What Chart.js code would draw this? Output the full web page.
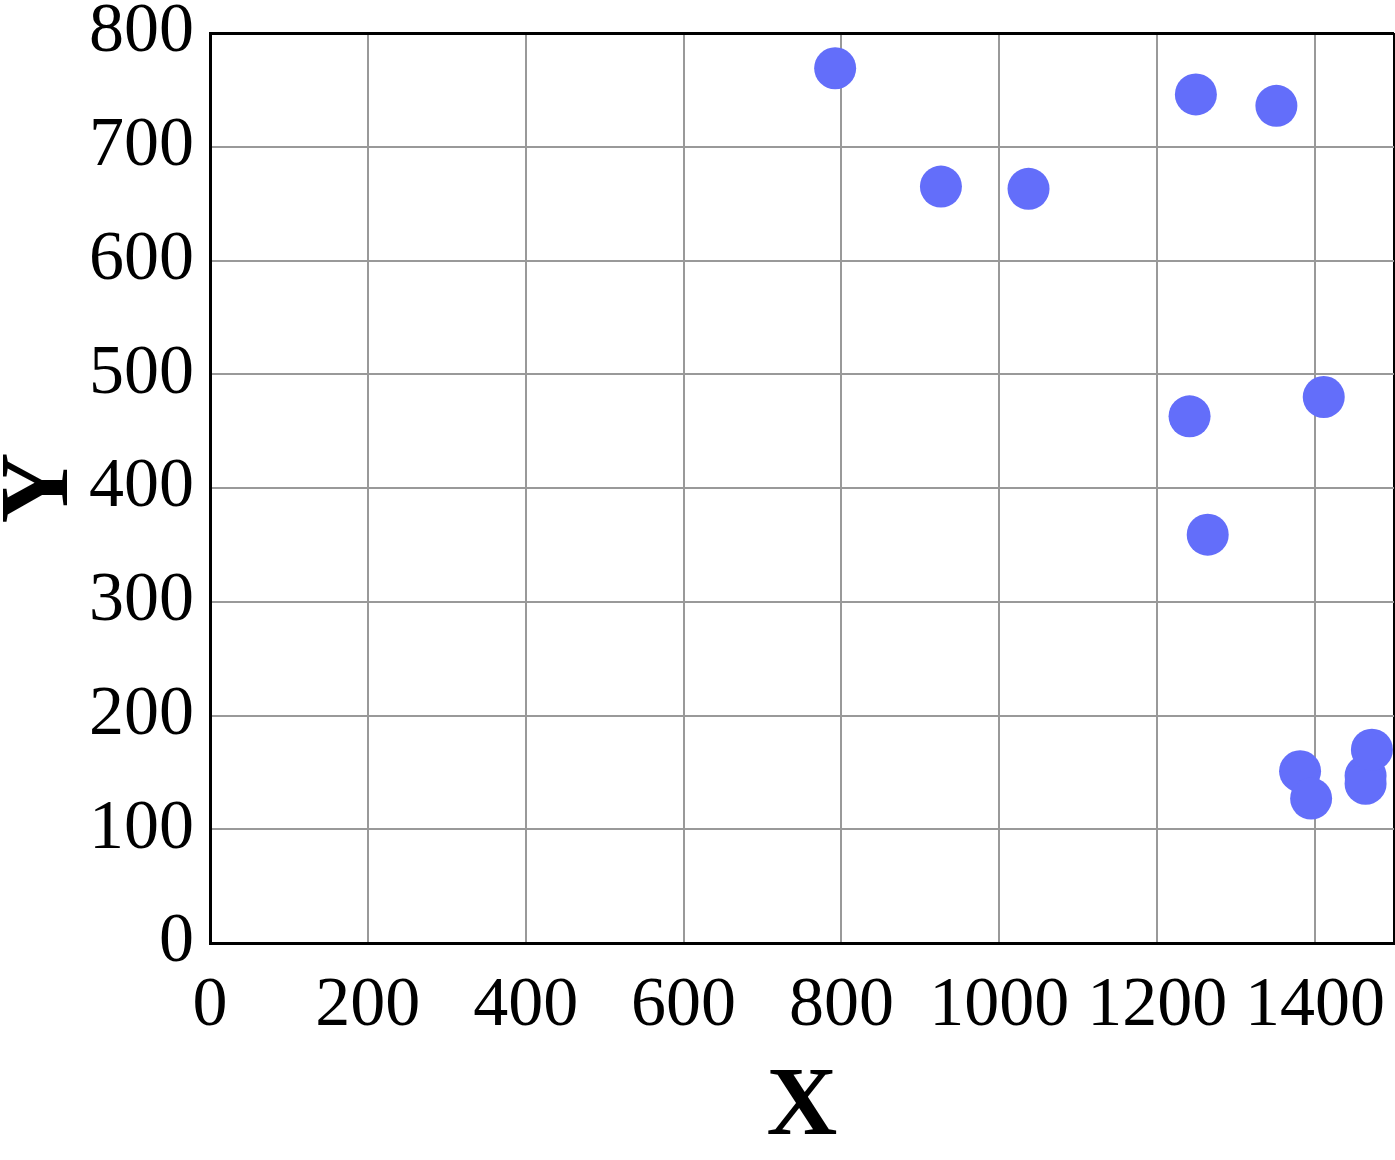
<!DOCTYPE html>
<html>
<head>
<meta charset="utf-8">
<script src="https://cdn.jsdelivr.net/npm/chart.js@4/dist/chart.umd.min.js"></script>
<style>
  html, body { margin: 0; padding: 0; background: #fff; overflow: hidden; }
  #wrap { width: 1395px; height: 1160px; }
</style>
</head>
<body>
<div id="wrap"><canvas id="chart"></canvas></div>
<script>
const xValues = [792, 926, 1037, 1249, 1351, 1241, 1411, 1264, 1381, 1395, 1464, 1464, 1472];
const yValues = [769, 665, 663, 746, 736, 463, 480, 359, 151, 127, 147, 140, 170];
const xTicks = [0, 200, 400, 600, 800, 1000, 1200, 1400];
const yTicks = [0, 100, 200, 300, 400, 500, 600, 700, 800];

const points = xValues.map((x, i) => ({ x: x, y: yValues[i] }));
const serif = "'Liberation Serif', 'Times New Roman', serif";

// keep the plot box where the reference has it, no room reserved for overhanging labels
function noOverhang(s) {
  s.paddingLeft = 0;
  s.paddingRight = 0;
  s.paddingTop = 0;
  s.paddingBottom = 0;
}

new Chart(document.getElementById('chart').getContext('2d'), {
  type: 'scatter',
  data: {
    datasets: [{
      data: points,
      backgroundColor: '#636efa',
      borderWidth: 0,
      pointRadius: 21,
      pointHoverRadius: 21,
      clip: 0
    }]
  },
  options: {
    responsive: true,
    maintainAspectRatio: false,
    animation: false,
    layout: { autoPadding: false, padding: { top: 33, right: 1, left: 0, bottom: 0 } },
    plugins: { legend: { display: false }, tooltip: { enabled: false } },
    scales: {
      x: {
        type: 'linear',
        min: 0,
        max: 1500,
        afterBuildTicks: s => { s.ticks = xTicks.concat([1500]).map(v => ({ value: v })); },
        afterFit: s => { s.height = 217; noOverhang(s); },
        ticks: {
          padding: 22,
          autoSkip: false,
          maxRotation: 0,
          minRotation: 0,
          color: '#000',
          font: { family: serif, size: 70 },
          callback: v => xTicks.includes(v) ? String(v) : ''
        },
        grid: {
          drawTicks: false,
          color: c => c.tick && c.tick.value === 1500 ? '#000' : '#999',
          lineWidth: 2
        },
        border: { display: true, color: '#000', width: 3 },
        title: {
          display: true,
          text: 'X',
          color: '#000',
          font: { family: serif, size: 98, weight: 'bold', lineHeight: 1.04 },
          padding: { top: 0, bottom: 0 }
        }
      },
      y: {
        type: 'linear',
        min: 0,
        max: 800,
        afterBuildTicks: s => { s.ticks = yTicks.map(v => ({ value: v })); },
        afterFit: s => { s.width = 210; noOverhang(s); },
        ticks: {
          padding: 16,
          autoSkip: false,
          color: '#000',
          font: { family: serif, size: 70 }
        },
        grid: {
          drawTicks: false,
          color: c => c.tick && c.tick.value === 800 ? '#000' : '#999',
          lineWidth: c => c.tick && c.tick.value === 800 ? 3 : 2
        },
        border: { display: true, color: '#000', width: 3 },
        title: {
          display: true,
          text: 'Y',
          color: '#000',
          font: { family: serif, size: 98, weight: 'bold', lineHeight: 0.85 },
          padding: { top: 0, bottom: 0 }
        }
      }
    }
  }
});
</script>
</body>
</html>
